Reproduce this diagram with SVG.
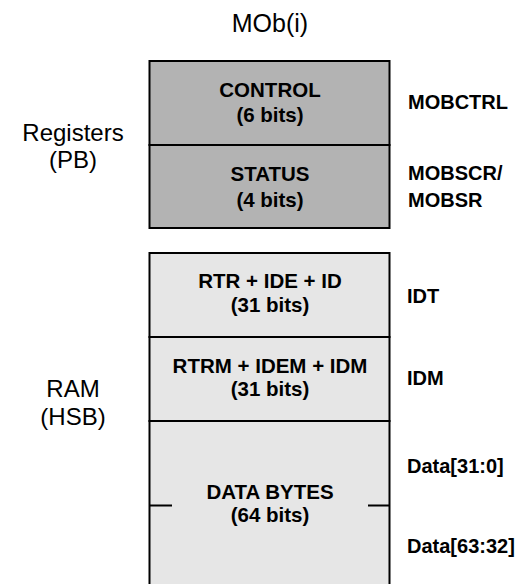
<svg xmlns="http://www.w3.org/2000/svg" width="522" height="584" viewBox="0 0 522 584">
<style>
.reg{fill:#b3b3b3;stroke:#000;stroke-width:2}
.ram{fill:#e6e6e6;stroke:#000;stroke-width:2}
.b{font-family:"Liberation Sans",Arial,sans-serif;font-weight:bold;font-size:20.5px;fill:#000}
.c{text-anchor:middle}
.n{font-family:"Liberation Sans",Arial,sans-serif;font-size:24px;fill:#000;text-anchor:middle}
.r{font-family:"Liberation Sans",Arial,sans-serif;font-weight:bold;font-size:20px;fill:#000}
.ln{stroke:#000;stroke-width:2;fill:none}
</style>
<rect width="522" height="584" fill="#fff"/>
<text class="n" x="270" y="32" style="font-size:25px">MOb(i)</text>
<g id="labels-left">
<text class="n" x="73" y="141">Registers</text>
<text class="n" x="73" y="168">(PB)</text>
<text class="n" x="73" y="397">RAM</text>
<text class="n" x="73" y="425">(HSB)</text>
</g>
<g id="control">
<rect class="reg" x="149.5" y="61" width="240" height="84"/>
<text class="b c" x="270" y="97">CONTROL</text>
<text class="b c" x="270" y="122">(6 bits)</text>
</g>
<g id="status">
<rect class="reg" x="149.5" y="145" width="240" height="83"/>
<text class="b c" x="270" y="181">STATUS</text>
<text class="b c" x="270" y="207">(4 bits)</text>
</g>
<g id="idt">
<rect class="ram" x="149.5" y="253" width="240" height="84"/>
<text class="b c" x="270" y="288">RTR + IDE + ID</text>
<text class="b c" x="270" y="312">(31 bits)</text>
</g>
<g id="idm">
<rect class="ram" x="149.5" y="337" width="240" height="84"/>
<text class="b c" x="270" y="373">RTRM + IDEM + IDM</text>
<text class="b c" x="270" y="396">(31 bits)</text>
</g>
<g id="data">
<rect class="ram" x="149.5" y="421" width="240" height="170"/>
<text class="b c" x="270" y="499">DATA BYTES</text>
<text class="b c" x="270" y="522">(64 bits)</text>
</g>
<g id="connectors">
<line class="ln" x1="149.5" y1="505.5" x2="172" y2="505.5"/>
<line class="ln" x1="368" y1="505.5" x2="389.5" y2="505.5"/>
</g>
<g id="labels-right">
<text class="r" x="408" y="109">MOBCTRL</text>
<text class="r" x="408" y="180">MOBSCR/</text>
<text class="r" x="408" y="207">MOBSR</text>
<text class="r" x="407" y="303">IDT</text>
<text class="r" x="407" y="385">IDM</text>
<text class="r" x="407" y="473">Data[31:0]</text>
<text class="r" x="407" y="553">Data[63:32]</text>
</g>
</svg>
